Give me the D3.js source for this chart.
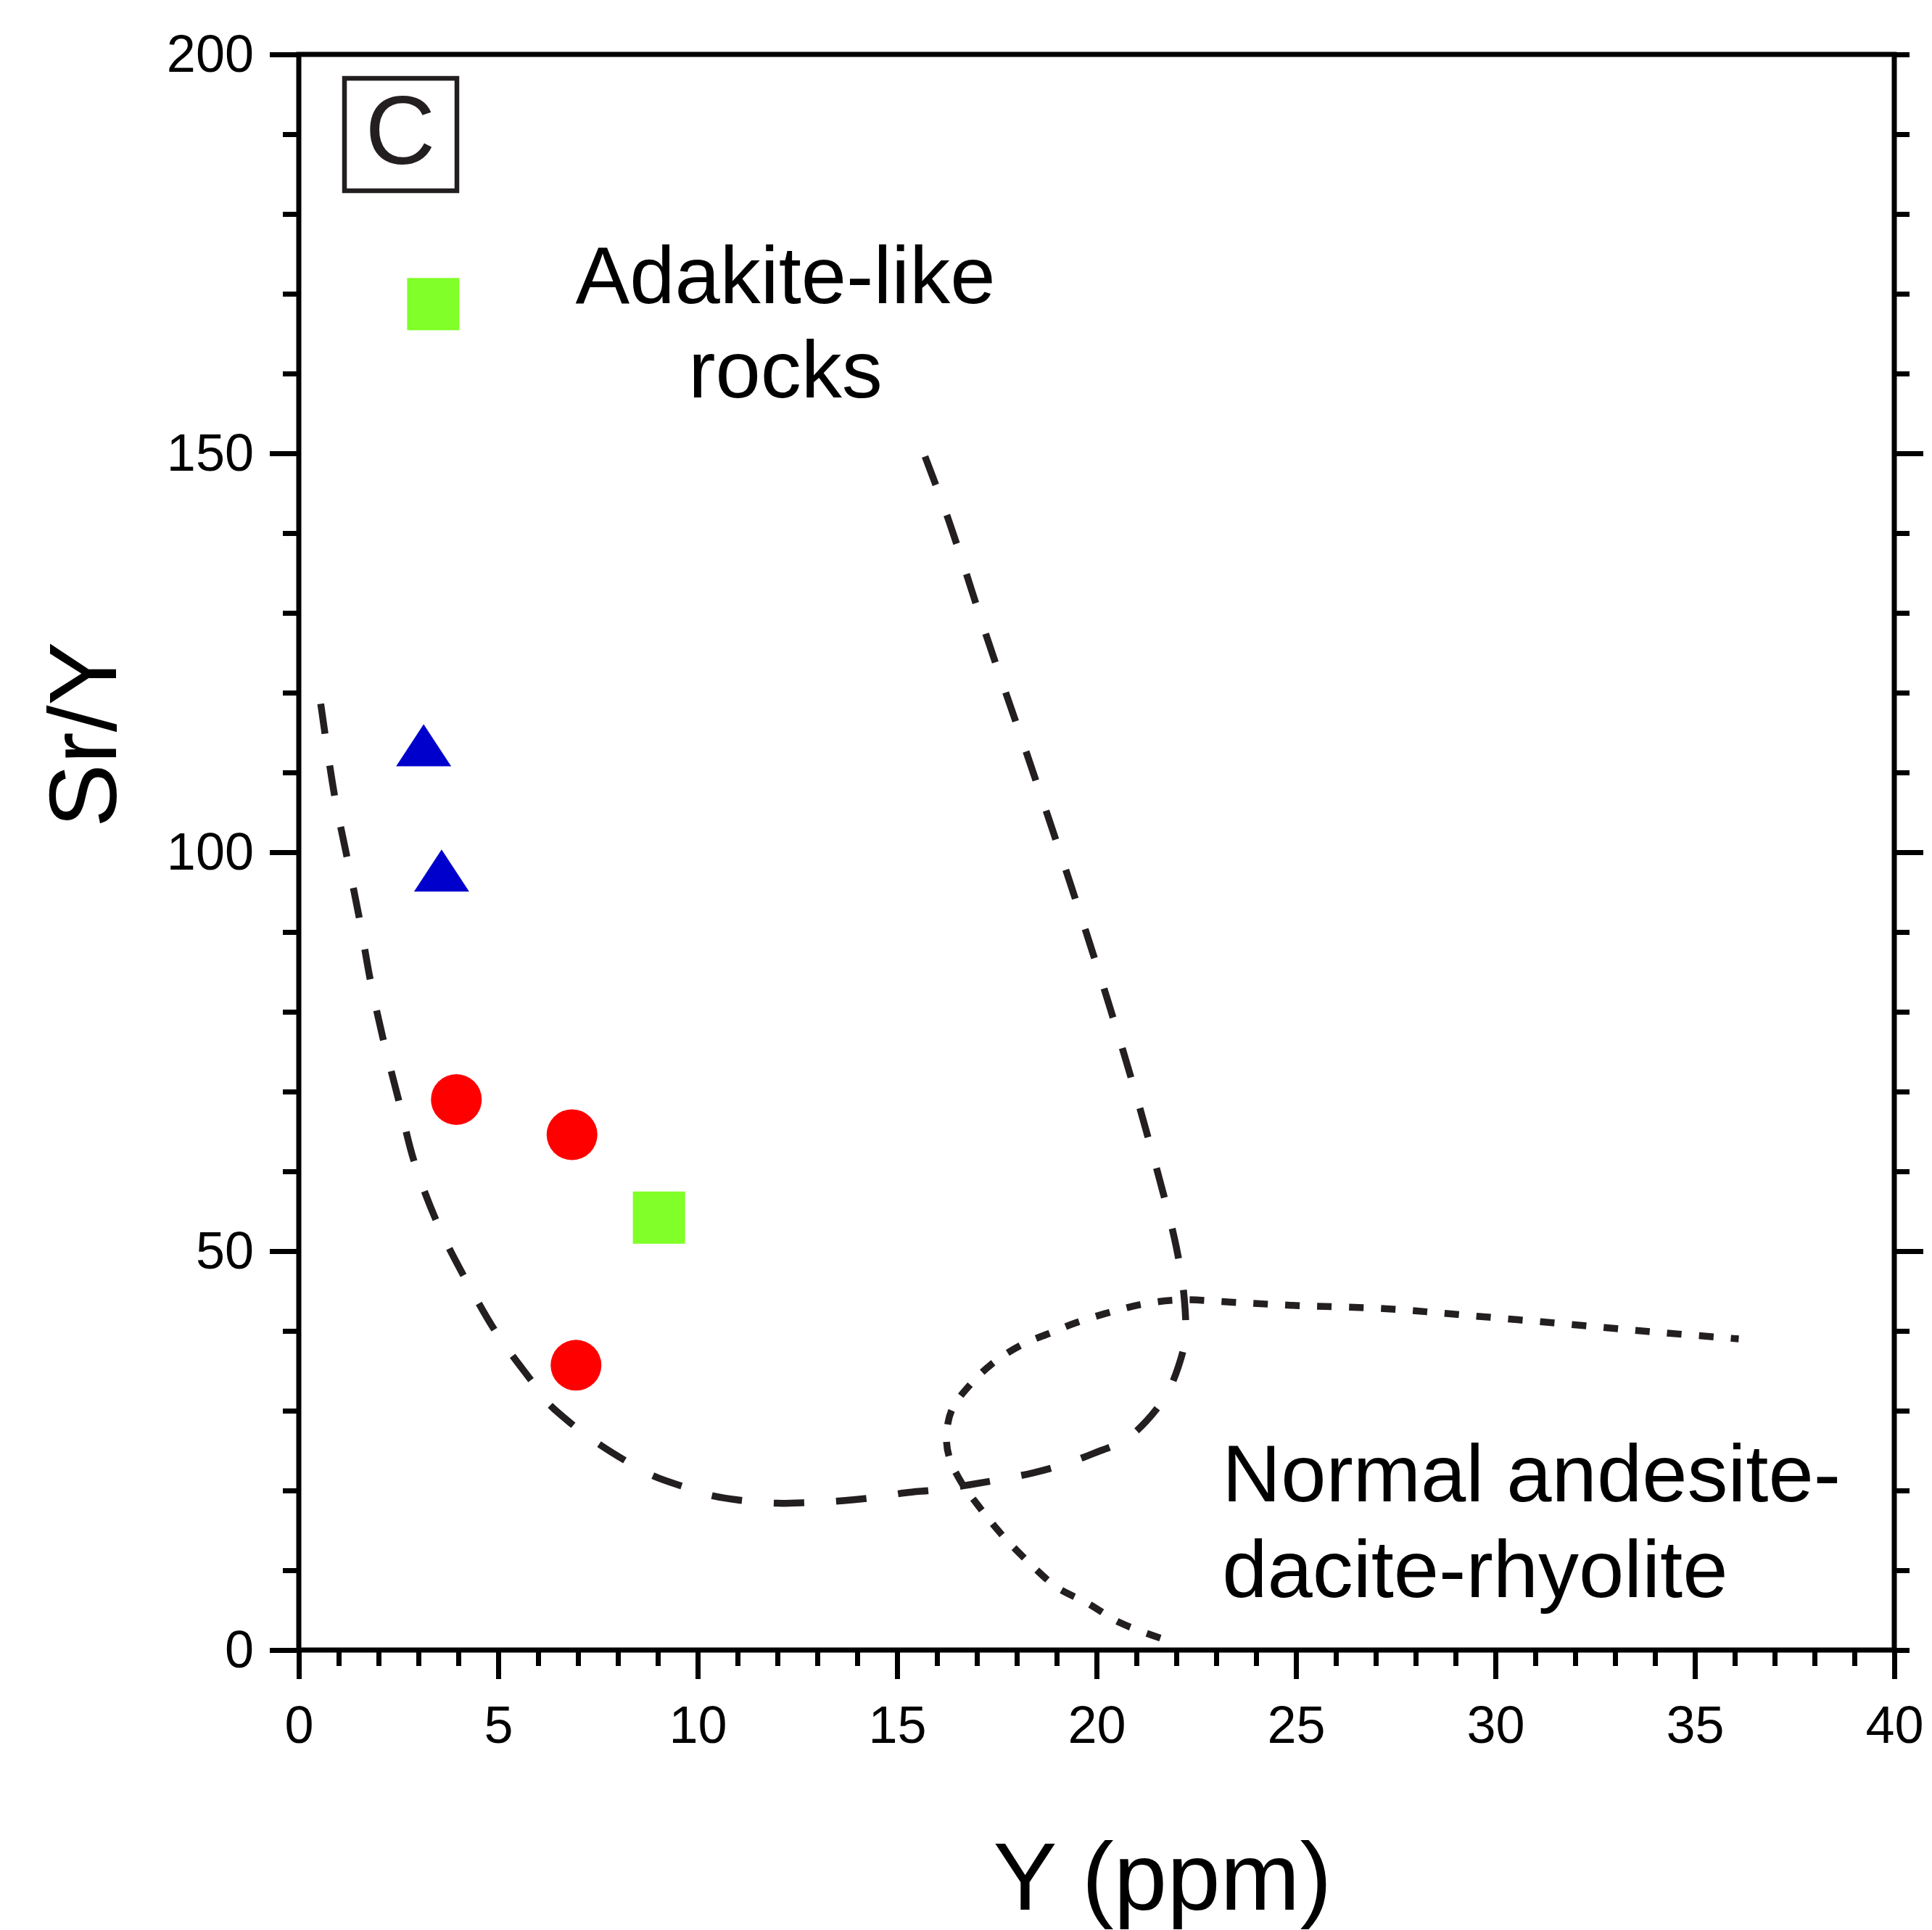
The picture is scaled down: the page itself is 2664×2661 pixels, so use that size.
<!DOCTYPE html>
<html>
<head>
<meta charset="utf-8">
<script src="https://cdn.jsdelivr.net/npm/d3@7"></script>
<style>
  html, body { margin: 0; padding: 0; background: #fff; }
  svg { display: block; font-family: "Liberation Sans", Arial, sans-serif; }
</style>
</head>
<body>
<svg id="chart" width="2664" height="2661"></svg>
<script>
// samples (Y ppm, Sr/Y)
const circleSamples = [[3.95, 69.0], [6.85, 64.6], [6.95, 35.7]];
const triangleSamples = [[3.13, 113.4], [3.58, 97.7]];
const squareSamples = [[3.37, 168.7], [9.03, 54.2]];

// field boundaries
const adakiteBoundary = [
  [15.7, 149.6], [16.3, 141.5], [17.3, 126.2], [18.35, 110.9], [19.38, 95.5],
  [20.35, 80.3], [21.25, 65.0], [22.0, 50.5], [22.2, 44.0], [22.22, 39.0],
  [22.05, 35.5], [21.75, 32.0], [21.25, 28.7], [20.7, 26.3], [19.95, 24.7],
  [19.2, 23.3], [18.4, 22.2], [17.6, 21.4], [16.8, 20.7], [16.0, 20.1],
  [15.2, 19.7], [14.4, 19.1], [13.6, 18.7], [12.8, 18.5], [12.0, 18.4],
  [11.2, 18.7], [10.4, 19.3], [9.7, 20.4], [8.9, 21.8], [8.2, 23.7],
  [7.5, 25.9], [6.8, 28.5], [6.2, 31.2], [5.9, 33.3], [5.0, 39.4],
  [4.2, 46.3], [3.5, 53.2], [2.9, 61.1], [2.5, 69.0], [2.1, 76.9],
  [1.8, 83.8], [1.5, 92.2], [1.2, 99.6], [0.9, 107.0], [0.55, 118.6]
];
const normalBoundary = [
  [21.6, 1.5], [20.6, 3.4], [19.8, 5.8], [19.0, 7.9], [18.3, 11.0],
  [17.6, 14.6], [17.05, 18.0], [16.6, 21.1], [16.3, 24.3], [16.24, 27.0],
  [16.38, 30.2], [16.84, 33.3], [17.36, 35.8], [18.1, 38.2], [18.87, 39.8],
  [19.47, 41.0], [20.38, 42.4], [21.2, 43.4], [22.1, 43.9], [23.4, 43.6],
  [24.9, 43.2], [27.2, 42.8], [29.4, 41.9], [31.7, 40.9], [33.9, 39.9],
  [36.1, 39.0]
];

const xMajor = [0, 5, 10, 15, 20, 25, 30, 35, 40];
const xMinor = d3.range(0, 41, 1);
const yMajor = [0, 50, 100, 150, 200];
const yMinor = d3.range(0, 201, 10);

// canvas settings
const LEFT = 412, RIGHT = 2612, TOP = 75, BOTTOM = 2275;
const AXIS_W = 7;
const INK = "#231f20";
const FONT_TICK = 72;

const svg = d3.select("#chart");

const x = d3.scaleLinear().domain([0, 40]).range([LEFT, RIGHT]);
const y = d3.scaleLinear().domain([0, 200]).range([BOTTOM, TOP]);

// style helper for axis groups
const styleAxis = (g) => {
  g.select(".domain").remove();
  g.selectAll("line").attr("stroke", "#000").attr("stroke-width", AXIS_W);
  g.selectAll("text").attr("fill", "#000").attr("font-size", FONT_TICK)
    .attr("font-family", "'Liberation Sans', Arial, sans-serif");
};

// minor ticks
svg.append("g").attr("transform", `translate(${LEFT},0)`)
  .call(d3.axisLeft(y).tickValues(yMinor).tickSize(22).tickSizeOuter(0).tickFormat(""))
  .call(styleAxis);
svg.append("g").attr("transform", `translate(${RIGHT},0)`)
  .call(d3.axisRight(y).tickValues(yMinor).tickSize(21).tickSizeOuter(0).tickFormat(""))
  .call(styleAxis);
svg.append("g").attr("transform", `translate(0,${BOTTOM})`)
  .call(d3.axisBottom(x).tickValues(xMinor).tickSize(22).tickSizeOuter(0).tickFormat(""))
  .call(styleAxis);

// major ticks + labels
svg.append("g").attr("transform", `translate(${LEFT},0)`)
  .call(d3.axisLeft(y).tickValues(yMajor).tickSize(40).tickPadding(22).tickSizeOuter(0))
  .call(styleAxis);
svg.append("g").attr("transform", `translate(${RIGHT},0)`)
  .call(d3.axisRight(y).tickValues(yMajor.filter(d => d > 0 && d < 200)).tickSize(40).tickSizeOuter(0).tickFormat(""))
  .call(styleAxis);
svg.append("g").attr("transform", `translate(0,${BOTTOM})`)
  .call(d3.axisBottom(x).tickValues(xMajor).tickSize(40).tickPadding(37).tickSizeOuter(0))
  .call(styleAxis);

// frame
svg.append("rect")
  .attr("x", LEFT).attr("y", TOP)
  .attr("width", RIGHT - LEFT).attr("height", BOTTOM - TOP)
  .attr("fill", "none").attr("stroke", "#000").attr("stroke-width", AXIS_W)
  .attr("stroke-linejoin", "miter");

// boundaries
const line = d3.line()
  .x((d) => x(d[0]))
  .y((d) => y(d[1]))
  .curve(d3.curveCatmullRom.alpha(0.5));

svg.append("path")
  .datum(adakiteBoundary)
  .attr("d", line)
  .attr("fill", "none")
  .attr("stroke", INK)
  .attr("stroke-width", 9.5)
  .attr("stroke-dasharray", "42 44");

svg.append("path")
  .datum(normalBoundary)
  .attr("d", line)
  .attr("fill", "none")
  .attr("stroke", INK)
  .attr("stroke-width", 9.5)
  .attr("stroke-dasharray", "20 24");

// markers
svg.append("g").selectAll("circle")
  .data(circleSamples)
  .join("circle")
  .attr("cx", (d) => x(d[0]))
  .attr("cy", (d) => y(d[1]))
  .attr("r", 35)
  .attr("fill", "#ff0000");

const TRI_W = 76, TRI_H = 58;
svg.append("g").selectAll("path")
  .data(triangleSamples)
  .join("path")
  .attr("d", (d) => {
    const cx = x(d[0]), cy = y(d[1]);
    return `M${cx},${cy - TRI_H / 2}L${cx + TRI_W / 2},${cy + TRI_H / 2}L${cx - TRI_W / 2},${cy + TRI_H / 2}Z`;
  })
  .attr("fill", "#0000cc");

const SQ = 72;
svg.append("g").selectAll("rect")
  .data(squareSamples)
  .join("rect")
  .attr("x", (d) => x(d[0]) - SQ / 2)
  .attr("y", (d) => y(d[1]) - SQ / 2)
  .attr("width", SQ)
  .attr("height", SQ)
  .attr("fill", "#80ff28");

// panel letter
svg.append("rect")
  .attr("x", 475).attr("y", 108).attr("width", 155).attr("height", 155)
  .attr("fill", "none").attr("stroke", INK).attr("stroke-width", 6.5);
svg.append("text")
  .attr("x", 552).attr("y", 226)
  .attr("text-anchor", "middle")
  .attr("font-size", 134)
  .attr("fill", INK)
  .text("C");

// field labels
const label = (txt, xv, yv, anchor) =>
  svg.append("text")
    .attr("x", x(xv)).attr("y", y(yv))
    .attr("text-anchor", anchor)
    .attr("font-size", 112)
    .attr("fill", "#000")
    .text(txt);

label("Adakite-like", 12.2, 168.8, "middle");
label("rocks", 12.2, 157.0, "middle");
label("Normal andesite-", 23.15, 18.6, "start");
label("dacite-rhyolite", 23.15, 6.6, "start");

// axis titles
svg.append("text")
  .attr("x", 1603).attr("y", 2633)
  .attr("text-anchor", "middle")
  .attr("font-size", 132)
  .text("Y (ppm)");

svg.append("text")
  .attr("transform", `translate(160,1013) rotate(-90)`)
  .attr("text-anchor", "middle")
  .attr("font-size", 132)
  .text("Sr/Y");
</script>
</body>
</html>
